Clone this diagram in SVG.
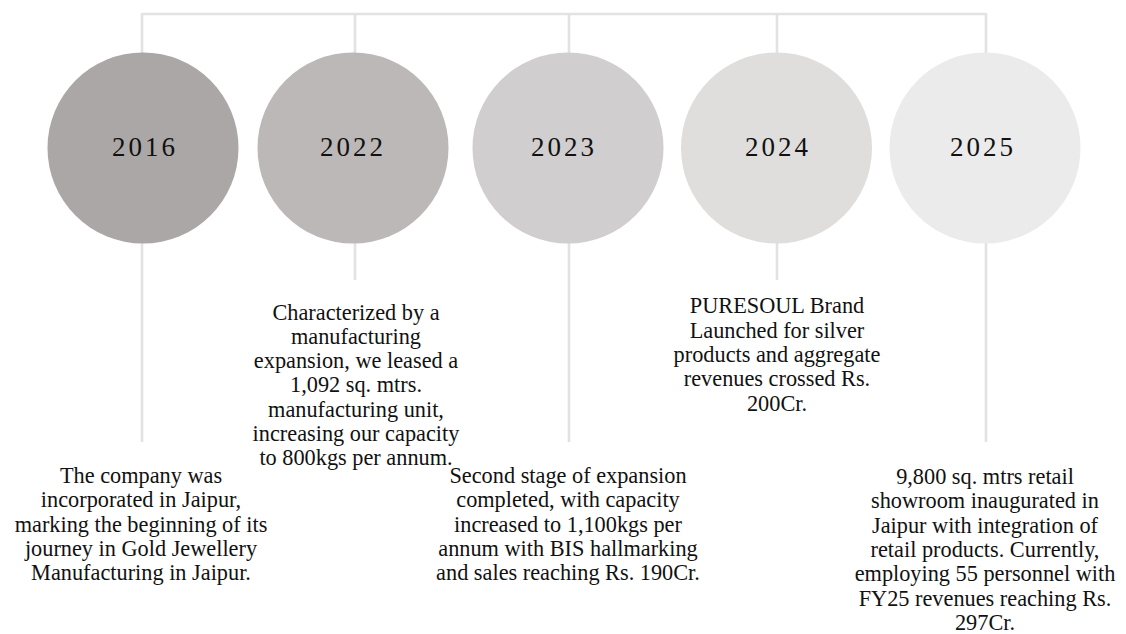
<svg xmlns="http://www.w3.org/2000/svg" width="1126" height="634" viewBox="0 0 1126 634">
<style>
.ln{stroke:#e2e2e2;stroke-width:2.6;fill:none}
.yr{font-family:"Liberation Serif",serif;font-size:27px;letter-spacing:3px;fill:#111;text-anchor:middle}
.ds{font-family:"Liberation Serif",serif;font-size:22.3px;fill:#111;text-anchor:middle}
</style>
<rect width="1126" height="634" fill="#fff"/>
<g id="connectors">
<path class="ln" d="M142 14 H986 M142 13 V53 M355 13 V53 M569 13 V53 M777 13 V53 M986 13 V53"/>
<path class="ln" d="M142 242 V442 M355 242 V280 M569 242 V442 M777 242 V280 M986 242 V442"/>
</g>
<g id="node-2016">
<circle cx="143" cy="148" r="95.5" fill="#aba7a6"/>
<text class="yr" x="145" y="156">2016</text>
<text class="ds"><tspan x="141" y="483">The company was</tspan><tspan x="141" y="507.3">incorporated in Jaipur,</tspan><tspan x="141" y="531.6">marking the beginning of its</tspan><tspan x="141" y="555.9">journey in Gold Jewellery</tspan><tspan x="141" y="580.2">Manufacturing in Jaipur.</tspan></text>
</g>
<g id="node-2022">
<circle cx="353" cy="148" r="95.5" fill="#bcb8b7"/>
<text class="yr" x="353" y="156">2022</text>
<text class="ds"><tspan x="356" y="319.5">Characterized by a</tspan><tspan x="356" y="343.8">manufacturing</tspan><tspan x="356" y="368.1">expansion, we leased a</tspan><tspan x="356" y="392.4">1,092 sq. mtrs.</tspan><tspan x="356" y="416.7">manufacturing unit,</tspan><tspan x="356" y="441">increasing our capacity</tspan><tspan x="356" y="465.3">to 800kgs per annum.</tspan></text>
</g>
<g id="node-2023">
<circle cx="568" cy="148" r="95.5" fill="#d0cecf"/>
<text class="yr" x="564" y="156">2023</text>
<text class="ds"><tspan x="568" y="483">Second stage of expansion</tspan><tspan x="568" y="507.3">completed, with capacity</tspan><tspan x="568" y="531.6">increased to 1,100kgs per</tspan><tspan x="568" y="555.9">annum with BIS hallmarking</tspan><tspan x="568" y="580.2">and sales reaching Rs. 190Cr.</tspan></text>
</g>
<g id="node-2024">
<circle cx="776.5" cy="148" r="95.5" fill="#dfdedd"/>
<text class="yr" x="778" y="156">2024</text>
<text class="ds"><tspan x="777" y="313.3">PURESOUL Brand</tspan><tspan x="777" y="337.6">Launched for silver</tspan><tspan x="777" y="361.9">products and aggregate</tspan><tspan x="777" y="386.2">revenues crossed Rs.</tspan><tspan x="777" y="410.5">200Cr.</tspan></text>
</g>
<g id="node-2025">
<circle cx="985" cy="148" r="95.5" fill="#ebebeb"/>
<text class="yr" x="983" y="156">2025</text>
<text class="ds"><tspan x="985" y="484">9,800 sq. mtrs retail</tspan><tspan x="985" y="508.3">showroom inaugurated in</tspan><tspan x="985" y="532.6">Jaipur with integration of</tspan><tspan x="985" y="556.9">retail products. Currently,</tspan><tspan x="985" y="581.2">employing 55 personnel with</tspan><tspan x="985" y="605.5">FY25 revenues reaching Rs.</tspan><tspan x="985" y="629.8">297Cr.</tspan></text>
</g>
</svg>
